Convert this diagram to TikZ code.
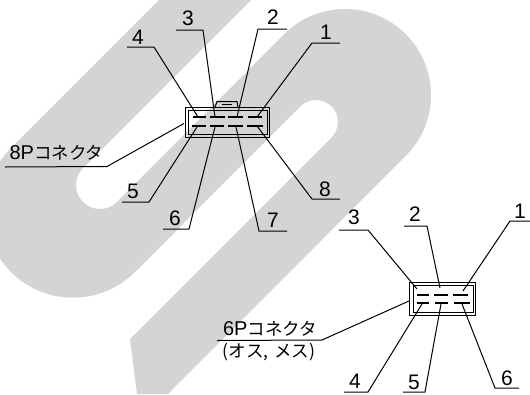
\documentclass[tikz,border=0pt]{standalone}
\usepackage{fontspec}
\setmainfont{Liberation Sans}
\newfontfamily\cjk{Noto Sans CJK JP}
\definecolor{wm}{HTML}{D4D4D4}
\tikzset{
  leader/.style={draw=black,line width=1pt,line join=miter},
  pinmark/.style={draw=black,line width=1.8pt},
  shell/.style={draw=black,line width=1pt,inner sep=0pt,fill=none},
  shellin/.style={draw=black,line width=0.7pt,inner sep=0pt,fill=none},
  numlabel/.style={inner sep=0pt,font=\fontsize{21}{23}\selectfont,text=black},
  txtlabel/.style={inner sep=0pt,text=black,anchor=center}
}
\newcommand{\kana}[1]{{\cjk\fontsize{17.5}{19}\selectfont #1}}
\begin{document}
\begin{tikzpicture}[x=1pt,y=-1pt]
\useasboundingbox (0,0) rectangle (530,394);
% watermark
\begin{scope}[y=1pt,yshift=-394pt]
\clip (0,0) rectangle (530,394);
\fill[wm] (168,0) -- (405.8,238.2) arc[start angle=-45,end angle=135,radius=86pt]
  -- (117,192) arc[start angle=-45,end angle=-225,radius=24pt]
  -- (251,394) -- (159,394) -- (11,246) arc[start angle=135,end angle=315,radius=87.7pt]
  -- (300.4,287.6) arc[start angle=135,end angle=-45,radius=22pt]
  -- (130,55) -- (137,0) -- cycle;
\end{scope}
% 8P connector
\node[shell,minimum width=84pt,minimum height=30pt] (cA) at (227,122) {};
\node[shellin,minimum width=79pt,minimum height=24pt] (cAi) at (227.5,122) {};
\coordinate (tabA1) at (215,107); \coordinate (tabA2) at (217,101.5);
\coordinate (tabA3) at (237,101.5); \coordinate (tabA4) at (238,107);
\draw[leader] (tabA1) -- (tabA2) -- (tabA3) -- (tabA4);
\coordinate (tabA5) at (222,104); \coordinate (tabA6) at (232,104);
\draw[leader] (tabA5) -- (tabA6);
\foreach \n/\a/\b/\yy in {t1/193/206/117.3,t2/210/225/117.3,t3/228/243/117.3,t4/248/262/117.3,
  b1/192/206/125.7,b2/210/224/125.7,b3/228/243/125.7,b4/247/263/125.7}{
  \coordinate (A\n a) at (\a,\yy); \coordinate (A\n b) at (\b,\yy);
  \draw[pinmark] (A\n a) -- (A\n b);
}
% 8P leaders
\foreach \k/\xa/\xb/\yy/\xp/\yp/\lx/\ly in {
  1/340/312/43/257/117/326/32,
  2/287/258/29/237/117/273/17,
  3/176/203/30/215/117/188/18,
  4/127/154/47/198/117/138/37,
  5/122/149/202/197/127/133/191,
  6/163/189/229/215/127/175/218,
  7/287/259/231/236/127/273/220,
  8/340/312/199/257/126/325/189}{
  \node[numlabel] (nA\k) at (\lx,\ly) {\k};
  \coordinate (uA\k) at (\xa,\yy); \coordinate (vA\k) at (\xb,\yy); \coordinate (pA\k) at (\xp,\yp);
  \draw[leader] (uA\k) -- (vA\k) -- (pA\k);
}
\node[txtlabel] (tA) at (56.5,153) {{\fontsize{20}{22}\selectfont 8P}\kana{コネクタ}};
\coordinate (uT) at (5,167); \coordinate (vT) at (107,166.5); \coordinate (pT) at (184,123.5);
\draw[leader] (uT) -- (vT) -- (pT);
% 6P connector
\node[shell,minimum width=66pt,minimum height=33pt] (cB) at (442,298.5) {};
\node[shellin,minimum width=60pt,minimum height=27pt] (cBi) at (443,298.5) {};
\foreach \n/\a/\b/\yy in {t1/417/429/295,t2/434/448/295,t3/453/468/295,
  b1/417/429/303,b2/435/448/303,b3/454/470/303}{
  \coordinate (B\n a) at (\a,\yy); \coordinate (B\n b) at (\b,\yy);
  \draw[pinmark] (B\n a) -- (B\n b);
}
\foreach \k/\xa/\xb/\yy/\xp/\yp/\lx/\ly in {
  1/530/510/221/463/291/520/211,
  2/404/427/226/440/288/415/214,
  3/339/368/230/417/289/354/217,
  4/344/368/392/422/304/355/381,
  5/403/425/392/441/304/414/382,
  6/519/495/388/462/304/507/378}{
  \node[numlabel] (nB\k) at (\lx,\ly) {\k};
  \coordinate (uB\k) at (\xa,\yy); \coordinate (vB\k) at (\xb,\yy); \coordinate (pB\k) at (\xp,\yp);
  \draw[leader] (uB\k) -- (vB\k) -- (pB\k);
}
\node[txtlabel] (tB) at (270,329) {{\fontsize{20}{22}\selectfont 6P}\kana{コネクタ}};
\node[txtlabel] (tC) at (269,352) {\kana{(オス,\,\,メス)}};
\coordinate (uS) at (217,340.5); \coordinate (vS) at (322,340); \coordinate (pS) at (409,301);
\draw[leader] (uS) -- (vS) -- (pS);
\end{tikzpicture}
\end{document}
